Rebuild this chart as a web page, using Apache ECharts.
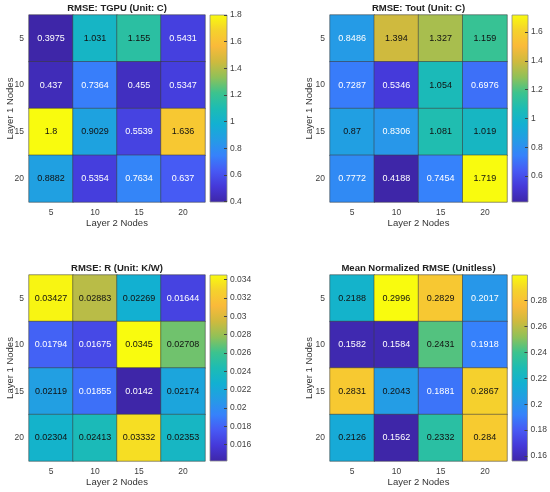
<!DOCTYPE html>
<html>
<head>
<meta charset="utf-8">
<script src="https://cdn.jsdelivr.net/npm/echarts@6/dist/echarts.min.js"></script>
<style>
  html, body { margin: 0; padding: 0; background: #fff; }
  #chart { width: 550px; height: 492px; }
</style>
</head>
<body>
<div id="chart"></div>
<script>
// 节点数 (行: Layer 1, 列: Layer 2)
const layer1Nodes = ['5', '10', '15', '20']
const layer2Nodes = ['5', '10', '15', '20']

// RMSE 数据，每行对应 Layer 1 节点数
const tgpuRmse = [
  [0.3975, 1.031, 1.155, 0.5431],
  [0.437, 0.7364, 0.455, 0.5347],
  [1.8, 0.9029, 0.5539, 1.636],
  [0.8882, 0.5354, 0.7634, 0.637]
]
const toutRmse = [
  [0.8486, 1.394, 1.327, 1.159],
  [0.7287, 0.5346, 1.054, 0.6976],
  [0.87, 0.8306, 1.081, 1.019],
  [0.7772, 0.4188, 0.7454, 1.719]
]
const rRmse = [
  [0.03427, 0.02883, 0.02269, 0.01644],
  [0.01794, 0.01675, 0.0345, 0.02708],
  [0.02119, 0.01855, 0.0142, 0.02174],
  [0.02304, 0.02413, 0.03332, 0.02353]
]
const meanNormRmse = [
  [0.2188, 0.2996, 0.2829, 0.2017],
  [0.1582, 0.1584, 0.2431, 0.1918],
  [0.2831, 0.2043, 0.1881, 0.2867],
  [0.2126, 0.1562, 0.2332, 0.284]
]

// 色条刻度
const tgpuTicks = [0.4, 0.6, 0.8, 1, 1.2, 1.4, 1.6, 1.8]
const toutTicks = [0.6, 0.8, 1, 1.2, 1.4, 1.6]
const rTicks = [0.016, 0.018, 0.02, 0.022, 0.024, 0.026, 0.028, 0.03, 0.032, 0.034]
const meanTicks = [0.16, 0.18, 0.2, 0.22, 0.24, 0.26, 0.28]

const titles = ['RMSE: TGPU (Unit: C)', 'RMSE: Tout (Unit: C)', 'RMSE: R (Unit: K/W)', 'Mean Normalized RMSE (Unitless)']

// parula 色图近似
const parula = [
  '#3E26A8', '#4538D8', '#4759F4', '#3682FB', '#249CE5', '#12B0D2', '#1CBCB4',
  '#3CC38E', '#90C158', '#CFBA3E', '#FABA3A', '#F5D22C', '#F9FB0E'
]

const FONT = '"Liberation Sans", Arial, sans-serif'

const panels = [
  { data: tgpuRmse, ticks: tgpuTicks, heat: [29, 15, 176, 187], bar: [210, 15, 17, 187] },
  { data: toutRmse, ticks: toutTicks, heat: [330, 15, 177, 187], bar: [512, 15, 16, 187] },
  { data: rRmse, ticks: rTicks, heat: [29, 275, 176, 186], bar: [210, 275, 17, 186] },
  { data: meanNormRmse, ticks: meanTicks, heat: [330, 275, 177, 186], bar: [512, 275, 16, 186] }
]

// 色条渐变 (下 -> 上)
const barGradient = () => new echarts.graphic.LinearGradient(0, 1, 0, 0,
  parula.map((c, k) => ({ offset: k / (parula.length - 1), color: c })))

const grid = []
const xAxis = []
const yAxis = []
const series = []
const visualMap = []
const graphic = []

panels.forEach((p, i) => {
  const flat = p.data.flat()
  const vmin = Math.min(...flat)
  const vmax = Math.max(...flat)
  const [hx, hy, hw, hh] = p.heat
  const [bx, by, bw, bh] = p.bar

  // 热图区域
  grid.push({ left: hx, top: hy, width: hw, height: hh })
  xAxis.push({
    type: 'category',
    gridIndex: 2 * i,
    data: layer2Nodes,
    axisLine: { show: false },
    axisTick: { show: false },
    axisLabel: { fontSize: 8.5, color: '#404040', margin: 6, fontFamily: FONT },
    name: 'Layer 2 Nodes',
    nameLocation: 'middle',
    nameGap: 16,
    nameMoveOverlap: false,
    nameTextStyle: { fontSize: 9.5, color: '#333', fontFamily: FONT }
  })
  yAxis.push({
    type: 'category',
    gridIndex: 2 * i,
    data: layer1Nodes,
    inverse: true,
    axisLine: { show: false },
    axisTick: { show: false },
    axisLabel: { fontSize: 8.5, color: '#404040', margin: 5, fontFamily: FONT },
    name: 'Layer 1 Nodes',
    nameLocation: 'middle',
    nameGap: i % 2 === 0 ? 14 : 16,
    nameMoveOverlap: false,
    nameTextStyle: { fontSize: 9.5, color: '#333', fontFamily: FONT }
  })

  // 色条区域
  grid.push({
    left: bx, top: by, width: bw, height: bh,
    show: true,
    backgroundColor: barGradient(),
    borderColor: '#8c8c8c',
    borderWidth: 0.8
  })
  xAxis.push({ type: 'value', gridIndex: 2 * i + 1, show: false, min: 0, max: 1 })
  yAxis.push({
    type: 'value',
    gridIndex: 2 * i + 1,
    position: 'right',
    min: vmin,
    max: vmax,
    axisLine: { show: false, onZero: false },
    splitLine: { show: false },
    axisTick: { show: true, inside: true, length: 3, lineStyle: { color: '#444' }, customValues: p.ticks },
    axisLabel: { fontSize: 8.5, color: '#404040', margin: 3, fontFamily: FONT, customValues: p.ticks }
  })

  series.push({
    type: 'heatmap',
    xAxisIndex: 2 * i,
    yAxisIndex: 2 * i,
    data: p.data.flatMap((row, ri) => row.map((v, ci) => ({
      value: [ci, ri, v],
      label: { color: (v - vmin) / (vmax - vmin) < 0.333 ? '#fff' : '#111' }
    }))),
    label: {
      show: true,
      fontSize: 9,
      fontFamily: FONT,
      formatter: (d) => String(d.value[2])
    },
    itemStyle: { borderColor: 'rgba(60,60,60,0.55)', borderWidth: 1 },
    emphasis: { disabled: true }
  })

  visualMap.push({
    type: 'continuous',
    show: false,
    seriesIndex: i,
    dimension: 2,
    min: vmin,
    max: vmax,
    inRange: { color: parula }
  })

  graphic.push({
    type: 'text',
    x: hx + hw / 2,
    y: hy - 7,
    style: {
      text: titles[i],
      align: 'center',
      verticalAlign: 'middle',
      font: 'bold 9.5px ' + FONT,
      fill: '#222'
    }
  })
})

const chart = echarts.init(document.getElementById('chart'), null, { renderer: 'canvas' })
chart.setOption({
  backgroundColor: '#fff',
  animation: false,
  grid,
  xAxis,
  yAxis,
  visualMap,
  series,
  graphic
})
</script>
</body>
</html>
